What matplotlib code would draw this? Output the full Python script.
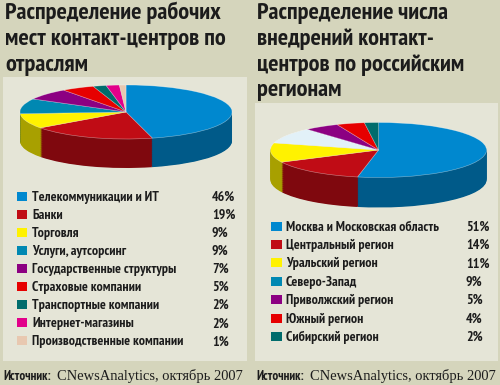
import matplotlib
matplotlib.use("Agg")
import matplotlib.pyplot as plt
from matplotlib.patches import Rectangle
import numpy as np

# ---------------- data ----------------
title_left = ["Распределение рабочих", "мест контакт-центров по", "отраслям"]
title_right = ["Распределение числа", "внедрений контакт-", "центров по российским", "регионам"]

industries = ["Телекоммуникации и ИТ", "Банки", "Торговля", "Услуги, аутсорсинг",
              "Государственные структуры", "Страховые компании", "Транспортные компании",
              "Интернет-магазины", "Производственные компании"]
industry_share = [46, 19, 9, 9, 7, 5, 2, 2, 1]

regions = ["Москва и Московская область", "Центральный регион", "Уральский регион",
           "Северо-Запад", "Приволжский регион", "Южный регион", "Сибирский регион"]
region_share = [51, 14, 11, 9, 5, 4, 2]

source_bold = "Источник:"
source_text = "CNewsAnalytics, октябрь 2007"

# ---------------- style ----------------
BG = "#d5d5bc"
PANEL = "#e5e5d7"
INK = "#1c1c1c"
left_top = ["#0088cf", "#c00c15", "#fff200", "#0088b2", "#8c0082", "#e60000",
            "#006c6c", "#e2008a", "#e8c8b0"]
right_top = ["#0088cf", "#c00c15", "#fff200", "#e2f1f8", "#8c0082", "#e60000", "#006c6c"]
right_legend = ["#0088cf", "#c00c15", "#fff200", "#0088b2", "#8c0082", "#e60000", "#006c6c"]

COND = ["PT Sans Narrow", "Roboto Condensed", "DejaVu Sans"]
SERIF = ["Liberation Serif", "DejaVu Serif"]


def darker(c, f=0.66):
    r, g, b = matplotlib.colors.to_rgb(c)
    return (r * f, g * f, b * f)


W, H = 500, 385
fig = plt.figure(figsize=(W / 100, H / 100), dpi=100)
fig.patch.set_facecolor(BG)
renderer = fig.canvas.get_renderer()

ov = fig.add_axes([0, 0, 1, 1])
ov.set_xlim(0, W)
ov.set_ylim(H, 0)
ov.axis("off")
ov.set_zorder(0)

ov.add_patch(Rectangle((3, 77), 244, 284, facecolor=PANEL, edgecolor="none"))
ov.add_patch(Rectangle((255, 103), 243, 258, facecolor=PANEL, edgecolor="none"))


def fit_size(text, family, weight, target_w):
    t = fig.text(0, 0, text, fontsize=10, family=family, fontweight=weight)
    w = t.get_window_extent(renderer=renderer).width
    t.remove()
    return 10 * target_w / w


# titles
title_fs = fit_size(title_left[0], COND, "bold", 217)
for i, line in enumerate(title_left):
    ov.text(5, 19.5 + 25.6 * i, line, fontsize=title_fs, family=COND, fontweight="bold",
            color=INK, va="baseline", ha="left")
for i, line in enumerate(title_right):
    ov.text(257, 19.5 + 25.6 * i, line, fontsize=title_fs, family=COND, fontweight="bold",
            color=INK, va="baseline", ha="left")


def draw_pie(cx, cy, rx, ry, depth, values, colors):
    d_units = depth / ry
    x0, x1 = -1.2, 1.2
    y0, y1 = -(1 + d_units + 0.2), 1.2
    left_px = cx + x0 * rx
    top_px = cy - y1 * ry
    wpx = (x1 - x0) * rx
    hpx = (y1 - y0) * ry
    ax = fig.add_axes([left_px / W, 1 - (top_px + hpx) / H, wpx / W, hpx / H])
    ax.set_zorder(1)
    side = [darker(c) for c in colors]
    for d in np.linspace(d_units, 0.02, 45):
        ax.pie(values, colors=side, startangle=90, counterclock=False,
               center=(0, -d), radius=1, wedgeprops=dict(linewidth=0))
    ax.pie(values, colors=colors, startangle=90, counterclock=False,
           center=(0, 0), radius=1,
           wedgeprops=dict(linewidth=0.4, edgecolor=(1, 1, 1, 0.5)))
    ax.set_aspect("auto")
    ax.set_xlim(x0, x1)
    ax.set_ylim(y0, y1)
    ax.axis("off")
    ax.patch.set_alpha(0)


draw_pie(126, 112, 106, 27, 29, industry_share, left_top)
draw_pie(378.5, 150, 108, 27.5, 30, region_share, right_top)

# legends
leg_fs = fit_size(industries[-1], COND, "bold", 151)
for i, (name, v) in enumerate(zip(industries, industry_share)):
    y = 196 + 18.1 * i
    ov.add_patch(Rectangle((17, y - 4.5), 10, 9, facecolor=left_top[i], edgecolor="none"))
    ov.text(32, y + 4.6, name, fontsize=leg_fs, family=COND, fontweight="bold",
            color=INK, va="baseline", ha="left")
    ov.text(212, y + 4.6, f"{v}%", fontsize=leg_fs, family=COND, fontweight="bold",
            color=INK, va="baseline", ha="left")

for i, (name, v) in enumerate(zip(regions, region_share)):
    y = 226 + 18.4 * i
    ov.add_patch(Rectangle((271, y - 4.5), 11, 9, facecolor=right_legend[i], edgecolor="none"))
    ov.text(286, y + 4.6, name, fontsize=leg_fs, family=COND, fontweight="bold",
            color=INK, va="baseline", ha="left")
    ov.text(466, y + 4.6, f"{v}%", fontsize=leg_fs, family=COND, fontweight="bold",
            color=INK, va="baseline", ha="left")

# footers
src_b_fs = fit_size(source_bold, COND, "bold", 48)
src_fs = fit_size(source_text, SERIF, "normal", 186)
for x_b, x_s in [(3, 57), (256, 310)]:
    ov.text(x_b, 380, source_bold, fontsize=src_b_fs, family=COND, fontweight="bold",
            color=INK, va="baseline", ha="left")
    ov.text(x_s, 380, source_text, fontsize=src_fs, family=SERIF,
            color=INK, va="baseline", ha="left")

fig.savefig("out.png", dpi=100, facecolor=BG)
